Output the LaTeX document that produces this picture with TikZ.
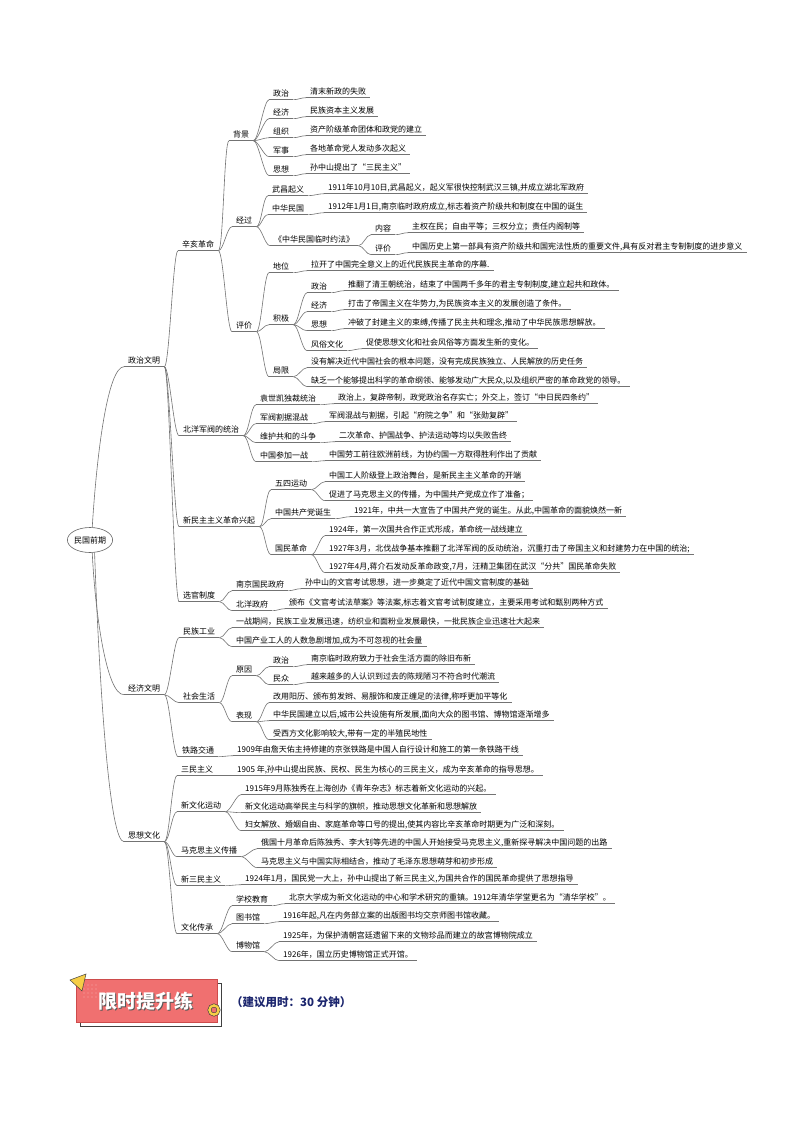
\documentclass[tikz,border=0pt]{standalone}
\usepackage{fontspec}
\setmainfont{Noto Sans CJK SC}
\usetikzlibrary{shapes.geometric,calc}
\definecolor{banred}{RGB}{240,112,112}
\definecolor{banredd}{RGB}{205,75,75}
\definecolor{banyel}{RGB}{246,206,70}
\definecolor{navy}{RGB}{28,38,110}
\tikzset{
 lbl/.style={anchor=west, inner xsep=4pt, inner ysep=1.5pt, text height=6.8pt, text depth=1.2pt, font=\fontsize{8}{9}\selectfont, text=black},
 ul/.style={draw=black!55, line width=0.6pt},
 conn/.style={draw=black!55, line width=0.6pt},
}
\newcommand\mn[4]{\node[lbl] (#1) at ({#2-4},#3) {#4};\draw[ul] (#1.south west) -- (#1.south east);}
\newcommand\ml[2]{\draw[conn] (#1.south east) .. controls ($(#1.south east)+(5,0)$) and ($(#2.south west)+(-5,0)$) .. (#2.south west);}
\newcommand\mls[2]{\foreach \cn in {#2}{\ml{#1}{\cn}}}
\begin{document}
\begin{tikzpicture}[x=1pt,y=-1pt]
\useasboundingbox (0,0) rectangle (794,1123);
\fill[white] (0,0) rectangle (794,1123);
% root
\node[ellipse, draw=black!60, line width=0.6pt, minimum width=44pt, minimum height=25pt, inner sep=0pt, font=\fontsize{8}{9}\selectfont] (root) at (90,540) {民国前期};
% level 1
\mn{zz}{128}{361}{政治文明}
\mn{jj}{128}{689}{经济文明}
\mn{sx}{128}{836}{思想文化}
% level 2
\mn{xh}{182}{245}{辛亥革命}
\mn{by}{183}{430}{北洋军阀的统治}
\mn{xm}{183}{521}{新民主主义革命兴起}
\mn{xg}{183}{596}{选官制度}
\mn{mg}{183}{632}{民族工业}
\mn{sh}{183}{697}{社会生活}
\mn{tl}{182}{751}{铁路交通}
\mn{sm}{181}{770}{三民主义}
\mn{xw}{181}{806}{新文化运动}
\mn{mk}{181}{851}{马克思主义传播}
\mn{xs}{181}{880}{新三民主义}
\mn{wc}{181}{928}{文化传承}
% xinhai
\mn{bj}{233}{135}{背景}
\mn{jg}{236}{221}{经过}
\mn{pj}{236}{326}{评价}
\mn{bj1}{273}{94}{政治}
\mn{bj2}{273}{113}{经济}
\mn{bj3}{273}{132}{组织}
\mn{bj4}{273}{151}{军事}
\mn{bj5}{273}{170}{思想}
\mn{bjl1}{310}{92}{清末新政的失败}
\mn{bjl2}{310}{111}{民族资本主义发展}
\mn{bjl3}{310}{130}{资产阶级革命团体和政党的建立}
\mn{bjl4}{310}{149}{各地革命党人发动多次起义}
\mn{bjl5}{310}{168}{孙中山提出了“三民主义”}
\mn{jg1}{272}{190}{武昌起义}
\mn{jgl1}{328}{188}{1911年10月10日,武昌起义，起义军很快控制武汉三镇,并成立湖北军政府}
\mn{jg2}{272}{209}{中华民国}
\mn{jgl2}{328}{207}{1912年1月1日,南京临时政府成立,标志着资产阶级共和制度在中国的诞生}
\mn{jg3}{274}{240}{《中华民国临时约法》}
\mn{jg31}{375}{229}{内容}
\mn{jgl31}{412}{227}{主权在民；自由平等；三权分立；责任内阁制等}
\mn{jg32}{375}{249}{评价}
\mn{jgl32}{412}{247}{中国历史上第一部具有资产阶级共和国宪法性质的重要文件,具有反对君主专制制度的进步意义}
\mn{pj1}{273}{267}{地位}
\mn{pjl1}{311}{265}{拉开了中国完全意义上的近代民族民主革命的序幕.}
\mn{pj2}{273}{319}{积极}
\mn{pj21}{311}{287}{政治}
\mn{pjl21}{348}{285}{推翻了清王朝统治，结束了中国两千多年的君主专制制度,建立起共和政体。}
\mn{pj22}{311}{306}{经济}
\mn{pjl22}{348}{304}{打击了帝国主义在华势力,为民族资本主义的发展创造了条件。}
\mn{pj23}{311}{325}{思想}
\mn{pjl23}{348}{323}{冲破了封建主义的束缚,传播了民主共和理念,推动了中华民族思想解放。}
\mn{pj24}{311}{345}{风俗文化}
\mn{pjl24}{366}{343}{促使思想文化和社会风俗等方面发生新的变化。}
\mn{pj3}{273}{371}{局限}
\mn{pjl31}{311}{362}{没有解决近代中国社会的根本问题，没有完成民族独立、人民解放的历史任务}
\mn{pjl32}{311}{381}{缺乏一个能够提出科学的革命纲领、能够发动广大民众,以及组织严密的革命政党的领导。}
% beiyang
\mn{by1}{260}{399}{袁世凯独裁统治}
\mn{byl1}{338}{398}{政治上，复辟帝制，政党政治名存实亡；外交上，签订“中日民四条约”}
\mn{by2}{260}{418}{军阀割据混战}
\mn{byl2}{329}{416}{军阀混战与割据，引起“府院之争”和“张勋复辟”}
\mn{by3}{260}{437}{维护共和的斗争}
\mn{byl3}{339}{436}{二次革命、护国战争、护法运动等均以失败告终}
\mn{by4}{260}{456}{中国参加一战}
\mn{byl4}{329}{455}{中国劳工前往欧洲前线，为协约国一方取得胜利作出了贡献}
% xinminzhu
\mn{xm1}{275}{484}{五四运动}
\mn{xml11}{329}{476}{中国工人阶级登上政治舞台，是新民主主义革命的开端}
\mn{xml12}{329}{495}{促进了马克思主义的传播，为中国共产党成立作了准备；}
\mn{xm2}{275}{513}{中国共产党诞生}
\mn{xml2}{354}{511}{1921年，中共一大宣告了中国共产党的诞生。从此,中国革命的面貌焕然一新}
\mn{xm3}{275}{549}{国民革命}
\mn{xml31}{329}{530}{1924年，第一次国共合作正式形成，革命统一战线建立}
\mn{xml32}{329}{549}{1927年3月，北伐战争基本推翻了北洋军阀的反动统治，沉重打击了帝国主义和封建势力在中国的统治;}
\mn{xml33}{329}{567}{1927年4月,蒋介石发动反革命政变,7月，汪精卫集团在武汉“分共”国民革命失败}
% xuanguan
\mn{xg1}{236}{585}{南京国民政府}
\mn{xgl1}{305}{583}{孙中山的文官考试思想，进一步奠定了近代中国文官制度的基础}
\mn{xg2}{236}{605}{北洋政府}
\mn{xgl2}{289}{603}{颁布《文官考试法草案》等法案,标志着文官考试制度建立，主要采用考试和甄别两种方式}
% economy
\mn{mgl1}{236}{622}{一战期间，民族工业发展迅速，纺织业和面粉业发展最快，一批民族企业迅速壮大起来}
\mn{mgl2}{236}{641}{中国产业工人的人数急剧增加,成为不可忽视的社会量}
\mn{sh1}{236}{670}{原因}
\mn{sh11}{273}{661}{政治}
\mn{shl11}{311}{659}{南京临时政府致力于社会生活方面的除旧布新}
\mn{sh12}{273}{679}{民众}
\mn{shl12}{311}{677}{越来越多的人认识到过去的陈规陋习不符合时代潮流}
\mn{sh2}{236}{716}{表现}
\mn{shl21}{273}{697}{改用阳历、颁布剪发辫、易服饰和废正缠足的法律,称呼更加平等化}
\mn{shl22}{273}{715}{中华民国建立以后,城市公共设施有所发展,面向大众的图书馆、博物馆逐渐增多}
\mn{shl23}{273}{734}{受西方文化影响较大,带有一定的半殖民地性}
\mn{tll}{237}{750}{1909年由詹天佑主持修建的京张铁路是中国人自行设计和施工的第一条铁路干线}
% culture
\mn{sml}{237}{770}{1905 年,孙中山提出民族、民权、民生为核心的三民主义，成为辛亥革命的指导思想。}
\mn{xwl1}{245}{789}{1915年9月陈独秀在上海创办《青年杂志》标志着新文化运动的兴起。}
\mn{xwl2}{245}{807}{新文化运动高举民主与科学的旗帜，推动思想文化革新和思想解放}
\mn{xwl3}{245}{825}{妇女解放、婚姻自由、家庭革命等口号的提出,使其内容比辛亥革命时期更为广泛和深刻。}
\mn{mkl1}{261}{843}{俄国十月革命后陈独秀、李大钊等先进的中国人开始接受马克思主义,重新探寻解决中国问题的出路}
\mn{mkl2}{261}{862}{马克思主义与中国实际相结合，推动了毛泽东思想萌芽和初步形成}
\mn{xsl}{245}{879}{1924年1月，国民党一大上，孙中山提出了新三民主义,为国共合作的国民革命提供了思想指导}
\mn{wc1}{236}{900}{学校教育}
\mn{wcl1}{289}{898}{北京大学成为新文化运动的中心和学术研究的重镇。1912年清华学堂更名为“清华学校”。}
\mn{wc2}{236}{918}{图书馆}
\mn{wcl2}{283}{916}{1916年起,凡在内务部立案的出版图书均交京师图书馆收藏。}
\mn{wc3}{236}{946}{博物馆}
\mn{wcl31}{283}{936}{1925年，为保护清朝宫廷遗留下来的文物珍品而建立的故宫博物院成立}
\mn{wcl32}{283}{955}{1926年，国立历史博物馆正式开馆。}
% connectors
\draw[conn] (root.80) .. controls (97,450) and (108,367) .. (zz.south west);
\draw[conn] (root.-80) .. controls (95,610) and (106,695) .. (jj.south west);
\draw[conn] (root.-70) .. controls (100,700) and (110,842) .. (sx.south west);
\mls{zz}{xh,by,xm,xg}
\mls{jj}{mg,sh,tl}
\mls{sx}{sm,xw,mk,xs,wc}
\mls{xh}{bj,jg,pj}
\mls{bj}{bj1,bj2,bj3,bj4,bj5}
\ml{bj1}{bjl1}\ml{bj2}{bjl2}\ml{bj3}{bjl3}\ml{bj4}{bjl4}\ml{bj5}{bjl5}
\mls{jg}{jg1,jg2,jg3}
\ml{jg1}{jgl1}\ml{jg2}{jgl2}
\mls{jg3}{jg31,jg32}
\ml{jg31}{jgl31}\ml{jg32}{jgl32}
\mls{pj}{pj1,pj2,pj3}
\ml{pj1}{pjl1}
\mls{pj2}{pj21,pj22,pj23,pj24}
\ml{pj21}{pjl21}\ml{pj22}{pjl22}\ml{pj23}{pjl23}\ml{pj24}{pjl24}
\mls{pj3}{pjl31,pjl32}
\mls{by}{by1,by2,by3,by4}
\ml{by1}{byl1}\ml{by2}{byl2}\ml{by3}{byl3}\ml{by4}{byl4}
\mls{xm}{xm1,xm2,xm3}
\mls{xm1}{xml11,xml12}
\ml{xm2}{xml2}
\mls{xm3}{xml31,xml32,xml33}
\mls{xg}{xg1,xg2}
\ml{xg1}{xgl1}\ml{xg2}{xgl2}
\mls{mg}{mgl1,mgl2}
\mls{sh}{sh1,sh2}
\mls{sh1}{sh11,sh12}
\ml{sh11}{shl11}\ml{sh12}{shl12}
\mls{sh2}{shl21,shl22,shl23}
\ml{tl}{tll}
\ml{sm}{sml}
\mls{xw}{xwl1,xwl2,xwl3}
\mls{mk}{mkl1,mkl2}
\ml{xs}{xsl}
\mls{wc}{wc1,wc2,wc3}
\ml{wc1}{wcl1}\ml{wc2}{wcl2}
\mls{wc3}{wcl31,wcl32}
% banner
\draw[black!75, fill=white, line width=0.6pt] (80,983) rectangle (221,1026);
\draw[banredd, fill=banred, line width=0.6pt] (76,979) rectangle (217,1022);
\foreach \i in {0,...,3}{\foreach \j in {0,...,3}{\fill[white,opacity=0.4] (84+4*\i,985+4*\j) circle (0.7);}}
\filldraw[fill=banyel, draw=black!75, line width=0.5pt] (70,980) -- (86,974) -- (82,991) -- cycle;
\draw[black!75, line width=3.6pt] (214,1010) circle (4.6);
\draw[banyel, line width=2.4pt] (214,1010) circle (4.6);
\node[font=\fontsize{19}{19}\selectfont\bfseries, text=black!65] (bts) at (147.2,1002.2) {限时提升练};
\node[font=\fontsize{19}{19}\selectfont\bfseries, text=white] (bt) at (146,1001) {限时提升练};
\node[anchor=west, font=\fontsize{11.5}{12}\selectfont\bfseries, text=navy, inner sep=0pt] (hint) at (231,1002) {（建议用时：30 分钟）};
\end{tikzpicture}
\end{document}
